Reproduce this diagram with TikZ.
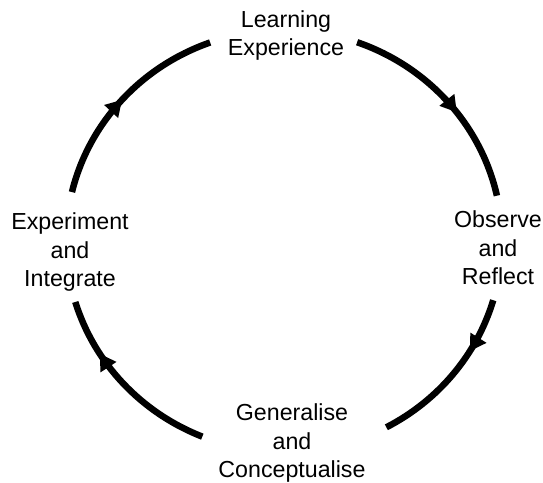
\documentclass[tikz,border=0pt]{standalone}
\usepackage{fontspec}
\setmainfont{Liberation Sans}
\usetikzlibrary{arrows.meta,decorations.markings}
\begin{document}
\begin{tikzpicture}[x=1bp,y=1bp,
  cyc/.style={line width=6.5bp, black},
  tipat/.style={postaction={decorate}, decoration={markings, mark=at position #1 with {\arrow{Triangle[length=16bp,width=18bp]}}}},
  lbl/.style={align=center, inner sep=0pt, font=\fontsize{23.2bp}{28.5bp}\selectfont, anchor=base}]
\useasboundingbox (0,0) rectangle (543,483);
\coordinate (C) at (284,242);
% labels (anchor = baseline of the last line)
\node[lbl] (learn) at (286,427) {Learning\\Experience};
\node[lbl] (obs) at (498,198) {Observe\\and\\Reflect};
\node[lbl] (gen) at (292,5) {Generalise\\and\\Conceptualise};
\node[lbl] (exp) at (70,196) {Experiment\\and\\Integrate};
% arc end points
\coordinate (a1s) at ([shift={(166.6:218bp and 211bp)}]C);
\coordinate (a2s) at ([shift={(70.4:218bp and 211bp)}]C);
\coordinate (a3s) at ([shift={(-16.3:218bp and 211bp)}]C);
\coordinate (a4s) at ([shift={(248:218bp and 211bp)}]C);
% connectors
\draw[cyc, tipat=0.5] (a1s) arc[start angle=166.6, end angle=109.8, x radius=218bp, y radius=211bp];
\draw[cyc, tipat=0.57] (a2s) arc[start angle=70.4, end angle=12.4, x radius=218bp, y radius=211bp];
\draw[cyc, tipat=0.33] (a3s) arc[start angle=-16.3, end angle=-62, x radius=218bp, y radius=211bp];
\draw[cyc, tipat=0.7] (a4s) arc[start angle=248, end angle=196.8, x radius=218bp, y radius=211bp];
\end{tikzpicture}
\end{document}
